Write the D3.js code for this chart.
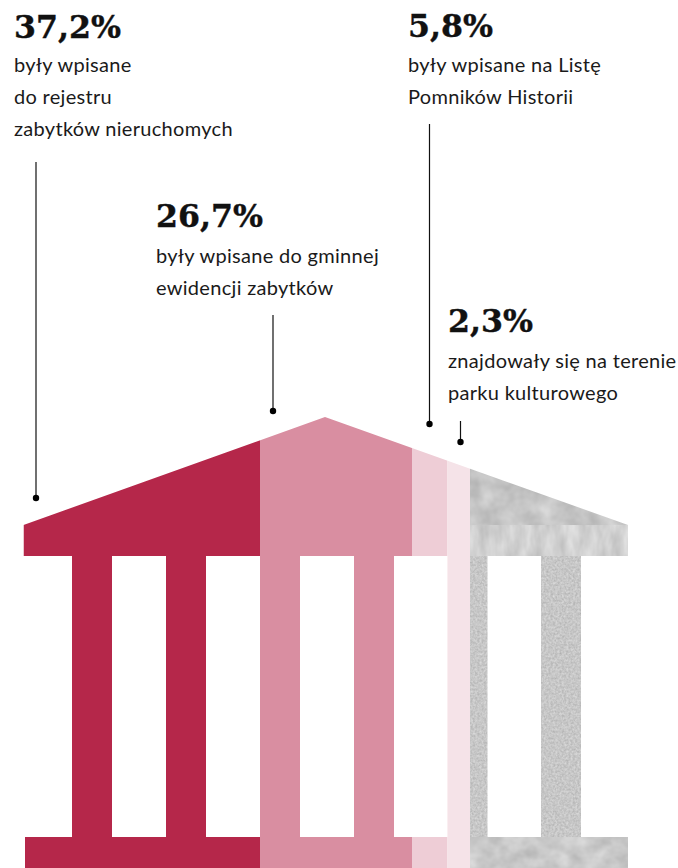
<!DOCTYPE html>
<html><head><meta charset="utf-8">
<style>html,body{margin:0;padding:0;background:#fff;overflow:hidden}svg{display:block}</style>
<script src="https://cdn.jsdelivr.net/npm/d3@7"></script></head><body>
<svg id="c" width="678" height="868"></svg>
<script>
const values=["37,2%","26,7%","5,8%","2,3%"];
const shares=[37.2,26.7,5.8,2.3,28.0];
const captions=[["były wpisane","do rejestru","zabytków nieruchomych"],["były wpisane do gminnej","ewidencji zabytków"],["były wpisane na Listę","Pomników Historii"],["znajdowały się na terenie","parku kulturowego"]];
const fills=["#b5274a","#d98ea1","#eecdd6","#f5e3e8","url(#g)"];

const svg=d3.select("#c");
const cum=d3.cumsum(shares);
// the graphic's stripes are not drawn to scale: a piecewise scale over the cumulative shares
const x=d3.scaleLinear().domain([0,...cum]).range([23.5,260,412,447.5,470,628]);
const defs=svg.append("defs");
function tex(id,fx,fy,slope,ic,seed){
  const f=defs.append("filter").attr("id",id).attr("filterUnits","userSpaceOnUse").attr("x",0).attr("y",0).attr("width",678).attr("height",868).attr("color-interpolation-filters","sRGB");
  f.append("feTurbulence").attr("type","fractalNoise").attr("baseFrequency",`${fx} ${fy}`).attr("numOctaves",3).attr("seed",seed);
  f.append("feColorMatrix").attr("type","matrix").attr("values",`${slope} 0 0 0 ${ic} ${slope} 0 0 0 ${ic} ${slope} 0 0 0 ${ic} 0 0 0 0 1`);
  f.append("feComposite").attr("in2","SourceGraphic").attr("operator","in");
}
tex("roof",0.05,0.05,0.22,0.66,4);
tex("frieze",0.09,0.035,0.2,0.72,9);
tex("shaft",0.45,0.45,0.2,0.68,12);
tex("base",0.05,0.06,0.22,0.68,21);
const H={apexX:325,apexY:417,eaveY:525,friezeY:556,colBot:837,bot:868,right:628,left:23.5,baseLeft:25};
const colX=[72,166,260,354,447.5,541],colW=40;
const clip=defs.append("clipPath").attr("id","b");
clip.append("path").attr("d",`M${H.left},${H.eaveY}L${H.apexX},${H.apexY}L${H.right},${H.eaveY}V${H.friezeY}H${H.left}Z`);
colX.forEach(c=>clip.append("rect").attr("x",c).attr("y",H.friezeY).attr("width",colW).attr("height",H.colBot-H.friezeY));
clip.append("rect").attr("x",H.baseLeft).attr("y",H.colBot).attr("width",H.right-H.baseLeft).attr("height",H.bot-H.colBot);
const g=svg.append("g").attr("clip-path","url(#b)");
shares.forEach((s,i)=>{
  const x0=x(i?cum[i-1]:0),x1=x(cum[i]);
  if(i<4){g.append("rect").attr("x",x0).attr("y",H.apexY).attr("width",x1-x0).attr("height",H.bot-H.apexY).attr("fill",fills[i]);}
  else{
    const bands=[["roof",H.apexY,H.eaveY-H.apexY],["frieze",H.eaveY,H.friezeY-H.eaveY],["shaft",H.friezeY,H.colBot-H.friezeY],["base",H.colBot,H.bot-H.colBot]];
    bands.forEach(b=>g.append("rect").attr("x",x0).attr("y",b[1]).attr("width",x1-x0).attr("height",b[2]).attr("fill","#fff").attr("filter",`url(#${b[0]})`));
  }
});
const labels=[
 {x:14,y:38,cy:72,lx:36,l0:162,l1:498},
 {x:156,y:227,cy:263,lx:273,l0:315,l1:411},
 {x:408,y:37,cy:72,lx:429.5,l0:124,l1:424},
 {x:448,y:332,cy:368,lx:460.5,l0:421,l1:442}];
labels.forEach((p,i)=>{
  const t=svg.append("g");
  t.append("text").attr("x",p.x).attr("y",p.y).attr("font-family","'DejaVu Serif'").attr("font-weight",700).attr("font-size",31.6).attr("fill","#111").attr("stroke","#111").attr("stroke-width",0.4).text(values[i]);
  captions[i].forEach((c,k)=>t.append("text").attr("x",p.x).attr("y",p.cy+k*32).attr("font-family","Lato").attr("font-size",20).attr("letter-spacing",0.3).attr("fill","#1a1a1a").text(c));
  t.append("line").attr("x1",p.lx).attr("x2",p.lx).attr("y1",p.l0).attr("y2",p.l1).attr("stroke","#111").attr("stroke-width",1.2);
  t.append("circle").attr("cx",p.lx).attr("cy",p.l1).attr("r",3.2).attr("fill","#000");
});
</script></body></html>
